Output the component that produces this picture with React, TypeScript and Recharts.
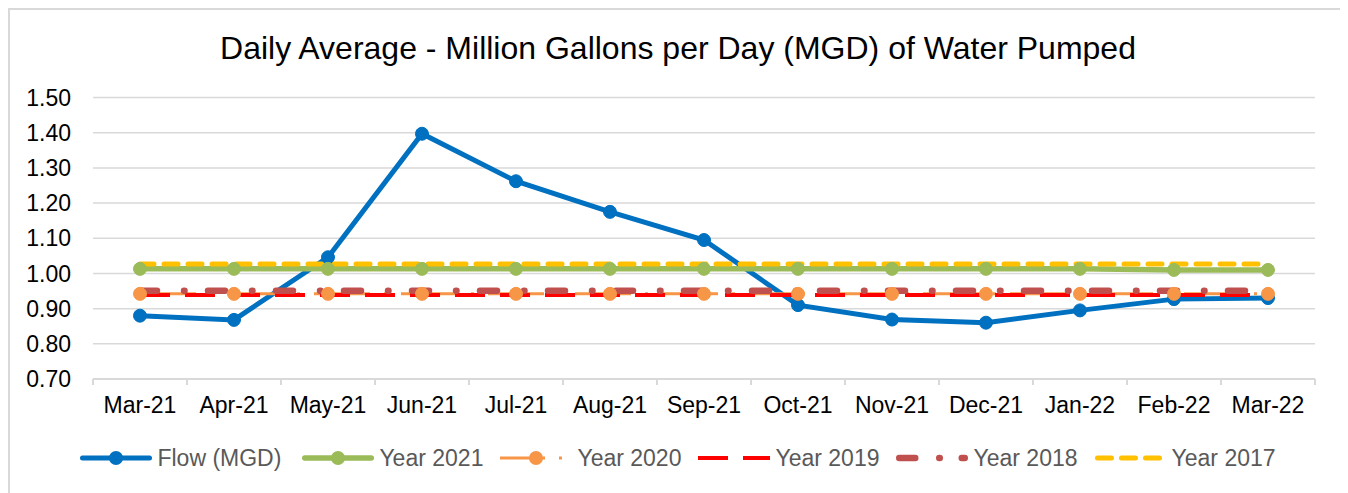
import { LineChart, Line, XAxis, YAxis, CartesianGrid } from "recharts";

const MONTHS = ["Mar-21", "Apr-21", "May-21", "Jun-21", "Jul-21", "Aug-21", "Sep-21", "Oct-21", "Nov-21", "Dec-21", "Jan-22", "Feb-22", "Mar-22"];
const FLOW = [0.88, 0.868, 1.046, 1.397, 1.262, 1.175, 1.095, 0.91, 0.869, 0.86, 0.895, 0.927, 0.93];
const YEAR_2021 = [1.013, 1.013, 1.013, 1.013, 1.013, 1.013, 1.013, 1.013, 1.013, 1.013, 1.013, 1.01, 1.01];
const YEAR_2020 = [0.942, 0.942, 0.942, 0.942, 0.942, 0.942, 0.942, 0.942, 0.942, 0.942, 0.942, 0.942, 0.942];
const YEAR_2019 = [0.939, 0.939, 0.939, 0.939, 0.939, 0.939, 0.939, 0.939, 0.939, 0.939, 0.939, 0.939, 0.939];
const YEAR_2018 = [0.951, 0.951, 0.951, 0.951, 0.951, 0.951, 0.951, 0.951, 0.951, 0.951, 0.951, 0.951, 0.951];
const YEAR_2017 = [1.027, 1.027, 1.027, 1.027, 1.027, 1.027, 1.027, 1.027, 1.027, 1.027, 1.027, 1.027, 1.027];
const Y_TICKS = [0.7, 0.8, 0.9, 1.0, 1.1, 1.2, 1.3, 1.4, 1.5];

const data = MONTHS.map((month, i) => ({
  month,
  flow: FLOW[i],
  y2021: YEAR_2021[i],
  y2020: YEAR_2020[i],
  y2019: YEAR_2019[i],
  y2018: YEAR_2018[i],
  y2017: YEAR_2017[i],
}));

const CHART_W = 1336;
const CHART_H = 483;
const MARGIN = { top: 87.5, right: 31, bottom: 74, left: 13 };
const Y_AXIS_W = 70;
const PLOT_W = CHART_W - MARGIN.left - MARGIN.right - Y_AXIS_W;
const HALF_BAND = PLOT_W / MONTHS.length / 2;
const FONT = "'Liberation Sans', Arial, sans-serif";

// series styles, also used by the legend samples
const SERIES = [
  { key: "flow", name: "Flow (MGD)", color: "#0070C0", width: 5, dash: undefined, legendDash: undefined, cap: "round", dot: true },
  { key: "y2021", name: "Year 2021", color: "#9BBB59", width: 5.5, dash: undefined, legendDash: undefined, cap: "round", dot: true },
  { key: "y2020", name: "Year 2020", color: "#F79646", width: 3, dash: "56 14 3 14", legendDash: "34 8 3 14 3 14", cap: "butt", dot: true },
  { key: "y2019", name: "Year 2019", color: "#FF0000", width: 4, dash: "30 15", legendDash: "30 15", cap: "butt", dot: false },
  { key: "y2018", name: "Year 2018", color: "#C0504D", width: 6.5, dash: "17 27 0.5 23.5", legendDash: "16 24 0.5 22", cap: "round", dot: false },
  { key: "y2017", name: "Year 2017", color: "#FFC000", width: 5, dash: "14 10", legendDash: "14 10", cap: "round", dot: false },
];

function MonthTick(props: any) {
  const { x, y, payload, index } = props;
  const last = index === MONTHS.length - 1;
  return (
    <g>
      <line x1={x - HALF_BAND} x2={x - HALF_BAND} y1={y} y2={y + 6} stroke="#d9d9d9" strokeWidth={2} />
      {last && <line x1={x + HALF_BAND} x2={x + HALF_BAND} y1={y} y2={y + 6} stroke="#d9d9d9" strokeWidth={2} />}
      <text x={x} y={y + 34} textAnchor="middle" fontSize={23} fill="#000" fontFamily={FONT}>
        {payload.value}
      </text>
    </g>
  );
}

function LegendSample({ s }: { s: (typeof SERIES)[number] }) {
  return (
    <svg width={72} height={26} style={{ display: "block" }}>
      <line
        x1={s.cap === "round" ? s.width / 2 : 0}
        x2={s.cap === "round" ? 72 - s.width / 2 : 72}
        y1={13}
        y2={13}
        stroke={s.color}
        strokeWidth={s.width}
        strokeDasharray={s.legendDash}
        strokeLinecap={s.cap as any}
      />
      {s.dot && <circle cx={36} cy={13} r={7} fill={s.color} />}
    </svg>
  );
}

export default function App() {
  return (
    <div
      style={{
        position: "relative",
        width: 1340,
        height: 487,
        boxSizing: "border-box",
        border: "2px solid #d9d9d9",
        fontFamily: FONT,
        background: "#fff",
      }}
    >
      <div
        style={{
          position: "absolute",
          top: 22,
          left: 0,
          width: CHART_W,
          textAlign: "center",
          fontSize: 32,
          lineHeight: "32px",
          color: "#000",
        }}
      >
        Daily Average - Million Gallons per Day (MGD) of Water Pumped
      </div>
      <LineChart width={CHART_W} height={CHART_H} data={data} margin={MARGIN}>
        <CartesianGrid vertical={false} stroke="#d9d9d9" strokeWidth={1.5} />
        <XAxis
          dataKey="month"
          interval={0}
          padding={{ left: HALF_BAND, right: HALF_BAND }}
          height={40}
          tickLine={false}
          tickSize={0}
          tickMargin={0}
          axisLine={{ stroke: "#d9d9d9", strokeWidth: 2 }}
          tick={<MonthTick />}
        />
        <YAxis
          width={Y_AXIS_W}
          domain={[0.7, 1.5]}
          ticks={Y_TICKS}
          interval={0}
          axisLine={false}
          tickLine={false}
          tickSize={0}
          tickMargin={22}
          tickFormatter={(v: number) => v.toFixed(2)}
          tick={{ fontSize: 23, fill: "#000", fontFamily: FONT }}
        />
        {SERIES.map((s) => (
          <Line
            key={s.key}
            type="linear"
            dataKey={s.key}
            name={s.name}
            stroke={s.color}
            strokeWidth={s.width}
            strokeDasharray={s.dash}
            strokeLinecap={s.cap as any}
            dot={s.dot ? { r: 6.5, fill: s.color, stroke: s.color, strokeWidth: 1, strokeDasharray: "none" } : false}
            activeDot={false}
            isAnimationActive={false}
          />
        ))}
      </LineChart>
      <div
        style={{
          position: "absolute",
          top: 435,
          left: 0,
          width: CHART_W,
          display: "flex",
          justifyContent: "center",
          alignItems: "center",
        }}
      >
        {SERIES.map((s, i) => (
          <div
            key={s.key}
            style={{
              display: "flex",
              alignItems: "center",
              gap: 5,
              marginRight: i === SERIES.length - 1 ? 0 : i === 0 ? 21 : 17,
            }}
          >
            <LegendSample s={s} />
            <span style={{ fontSize: 23, lineHeight: "26px", color: "#595959" }}>{s.name}</span>
          </div>
        ))}
      </div>
    </div>
  );
}
